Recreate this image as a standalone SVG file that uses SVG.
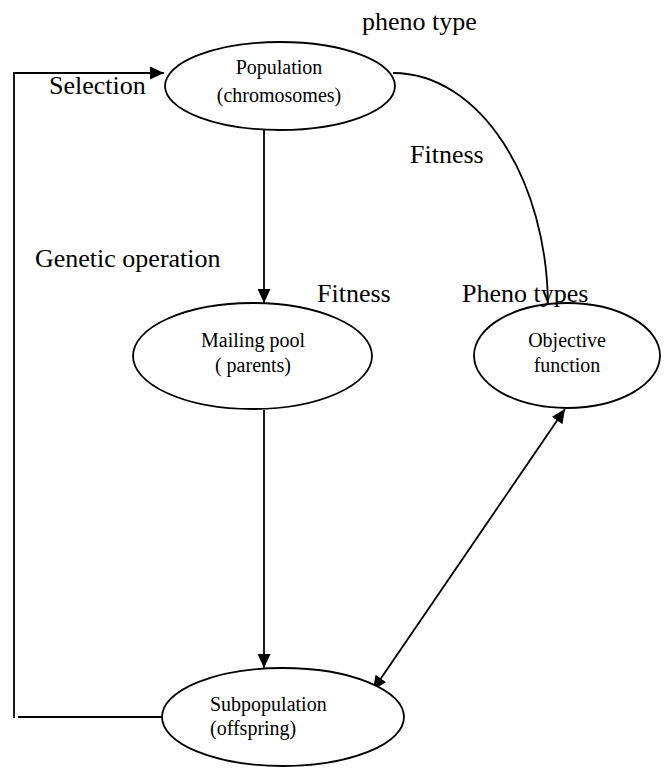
<svg xmlns="http://www.w3.org/2000/svg" width="664" height="769" viewBox="0 0 664 769">
<style>
.node{fill:#fff;stroke:#000;stroke-width:1.8}
.nt{font-family:"Liberation Serif","Times New Roman",serif;font-size:20px;fill:#000}
.lb{font-family:"Liberation Serif","Times New Roman",serif;font-size:26px;fill:#000}
.ln{fill:none;stroke:#000;stroke-width:1.8}
</style>
<defs>
<marker id="ah" markerUnits="userSpaceOnUse" markerWidth="15" markerHeight="13" refX="14" refY="6.5" orient="auto-start-reverse">
<path d="M0,0 L14,6.5 L0,13 Z" fill="#000"/>
</marker>
</defs>
<rect width="664" height="769" fill="#fff"/>
<g id="connectors">
<path class="ln" d="M14,718 V73 H164" marker-end="url(#ah)"/>
<line class="ln" x1="18" y1="717" x2="163" y2="717"/>
<line class="ln" x1="264" y1="130" x2="264" y2="303" marker-end="url(#ah)"/>
<line class="ln" x1="264" y1="410" x2="264" y2="668" marker-end="url(#ah)"/>
<line class="ln" x1="565" y1="409" x2="373" y2="690" marker-start="url(#ah)" marker-end="url(#ah)"/>
<path class="ln" d="M393,73 C480,73 548,180 548,308"/>
</g>
<g id="population">
<ellipse class="node" cx="280" cy="86" rx="115" ry="44"/>
<text class="nt" x="279" y="74" text-anchor="middle">Population</text>
<text class="nt" x="279" y="102" text-anchor="middle">(chromosomes)</text>
</g>
<g id="mailing-pool">
<ellipse class="node" cx="252.5" cy="356" rx="119.5" ry="53"/>
<text class="nt" x="253" y="347" text-anchor="middle">Mailing pool</text>
<text class="nt" x="253" y="372" text-anchor="middle">( parents)</text>
</g>
<g id="objective-function">
<ellipse class="node" cx="567" cy="355.5" rx="93" ry="52.5"/>
<text class="nt" x="567" y="347" text-anchor="middle">Objective</text>
<text class="nt" x="567" y="372" text-anchor="middle">function</text>
</g>
<g id="subpopulation">
<ellipse class="node" cx="283" cy="717" rx="121" ry="49"/>
<text class="nt" x="210" y="711">Subpopulation</text>
<text class="nt" x="210" y="735">(offspring)</text>
</g>
<g id="labels">
<text class="lb" x="362" y="30">pheno type</text>
<text class="lb" x="49" y="94">Selection</text>
<text class="lb" x="410" y="163">Fitness</text>
<text class="lb" x="35" y="267">Genetic operation</text>
<text class="lb" x="317" y="302">Fitness</text>
<text class="lb" x="462" y="302">Pheno types</text>
</g>
</svg>
